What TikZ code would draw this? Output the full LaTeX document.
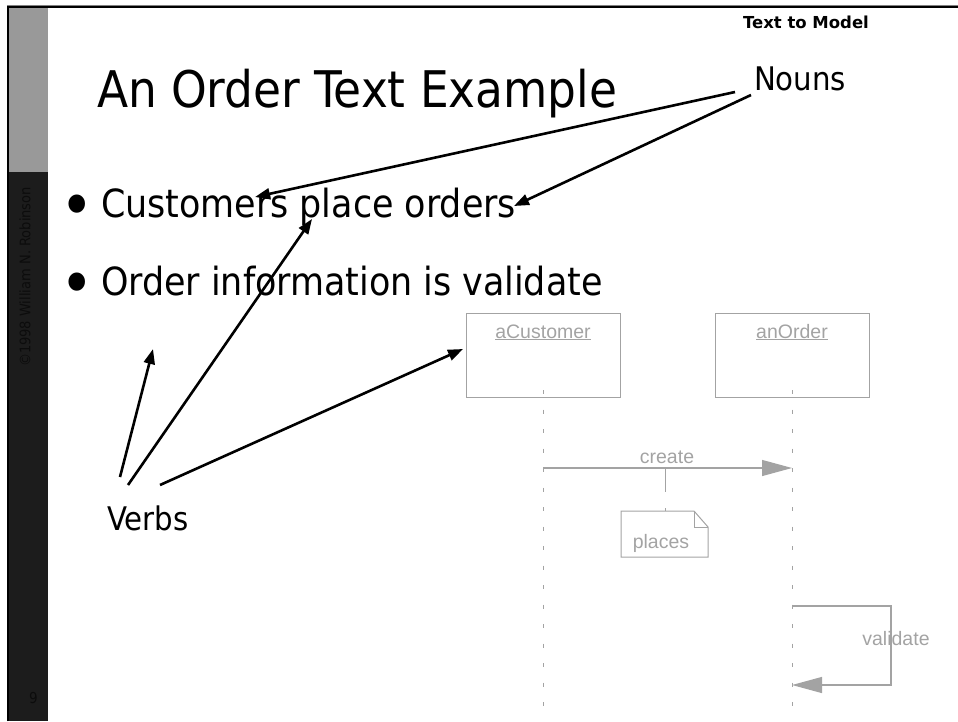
\documentclass[tikz,border=0pt]{standalone}
\usepackage{fontspec}
\setmainfont{DejaVu Sans Condensed}
\newfontfamily\umlfont{Liberation Sans}
\newfontfamily\widefont{DejaVu Sans}
\usetikzlibrary{arrows.meta}
\definecolor{umlgray}{HTML}{A3A3A3}
\definecolor{bargray}{HTML}{999999}
\definecolor{bardark}{HTML}{1C1C1C}
\definecolor{bartext}{HTML}{0C0C0C}
\tikzset{
  txt/.style={inner sep=0pt, outer sep=0pt, anchor=base west},
  bullet/.style={inner sep=0pt, font=\fontsize{63}{63}\selectfont},
  pointer/.style={line width=2.6pt, -{Triangle[length=15pt,width=11pt]}},
  umlbox/.style={draw=umlgray, line width=1pt},
  umltxt/.style={inner sep=0pt, anchor=base, text=umlgray, font=\umlfont\fontsize{19.5}{20}\selectfont},
  lifeline/.style={draw=umlgray, line width=1pt, dash pattern=on 4pt off 15.5pt},
  msg/.style={draw=umlgray, line width=1.2pt, -{Triangle[length=30pt,width=16pt,fill=umlgray]}},
}
\begin{document}
\begin{tikzpicture}[x=1pt,y=-1pt]
\useasboundingbox (0,0) rectangle (958,721);
% side bar and frame
\fill[bargray] (9,7) rectangle (48,172);
\fill[bardark] (9,172) rectangle (48,721);
\draw[gray, line width=1pt] (7,721) -- (7,5.5) -- (958,5.5);
\draw[black, line width=2.2pt] (8,721) -- (8,7) -- (958,7);
\node[inner sep=0pt, rotate=90, text=bartext, font=\fontsize{14.5}{15}\selectfont] (copy) at (25,277) {©1998 William N. Robinson};
\node[txt, text=bartext, font=\fontsize{15}{15}\selectfont] (pg) at (29,703) {9};

% texts
\node[txt, font=\widefont\bfseries\fontsize{16.5}{17}\selectfont] (head) at (743,28) {Text to Model};
\node[txt, font=\fontsize{50.5}{51}\selectfont] (title) at (97,107) {An Order Text Example};
\node[txt, font=\fontsize{32.5}{33}\selectfont] (nouns) at (754,90) {Nouns};
\node[bullet] (dot1) at (77,211) {•};
\node[txt, font=\fontsize{38.8}{39}\selectfont] (b1) at (101,217) {Customers place orders};
\node[bullet] (dot2) at (77,289) {•};
\node[txt, font=\fontsize{38.8}{39}\selectfont] (b2) at (101,295) {Order information is validate};
\node[txt, font=\fontsize{32.5}{33}\selectfont] (verbs) at (107,530) {Verbs};

% sequence diagram
\draw[umlbox] (466,313) rectangle (620,397);
\node[umltxt] (cust) at (543,338) {\underline{aCustomer}};
\draw[umlbox] (715,313) rectangle (869,397);
\node[umltxt] (ord) at (792,338) {\underline{anOrder}};
\coordinate (cl) at (543,390);
\coordinate (clend) at (543,721);
\coordinate (ol) at (792,390);
\coordinate (olend) at (792,721);
\draw[lifeline] (cl) -- (clend);
\draw[lifeline] (ol) -- (olend);
\coordinate (cr1) at (543,468);
\coordinate (or1) at (792,468);
\draw[msg] (cr1) -- (or1);
\node[umltxt] (create) at (667,463) {create};
\coordinate (nc) at (665,468);
\draw[draw=umlgray, line width=1pt] (621,511) -- (694,511) -- (708,527) -- (708,557) -- (621,557) -- cycle;
\draw[draw=umlgray, line width=1pt] (694,511) -- (694,527) -- (708,527);
\node[umltxt] (places) at (661,548) {places};
\coordinate (nt) at (665,511);
\draw[draw=umlgray, line width=1pt, dash pattern=on 24pt off 16pt] (nc) -- (nt);
\coordinate (v1) at (792,606);
\coordinate (v2) at (792,685);
\draw[msg] (v1) -- (891,606) -- (891,685) -- (v2);
\node[umltxt] (validate) at (896,645) {validate};

% pointers
\coordinate (n1) at (735,92);
\coordinate (n2) at (751,95);
\coordinate (t1) at (255,197);
\coordinate (t2) at (514,206);
\draw[pointer] (n1) -- (t1);
\draw[pointer] (n2) -- (t2);
\coordinate (vs1) at (120,477);
\coordinate (vs2) at (128,485);
\coordinate (vs3) at (160,485);
\coordinate (vt1) at (153,349);
\coordinate (vt2) at (312,219);
\coordinate (vt3) at (463,349);
\draw[pointer] (vs1) -- (vt1);
\draw[pointer] (vs2) -- (vt2);
\draw[pointer] (vs3) -- (vt3);
\end{tikzpicture}
\end{document}
